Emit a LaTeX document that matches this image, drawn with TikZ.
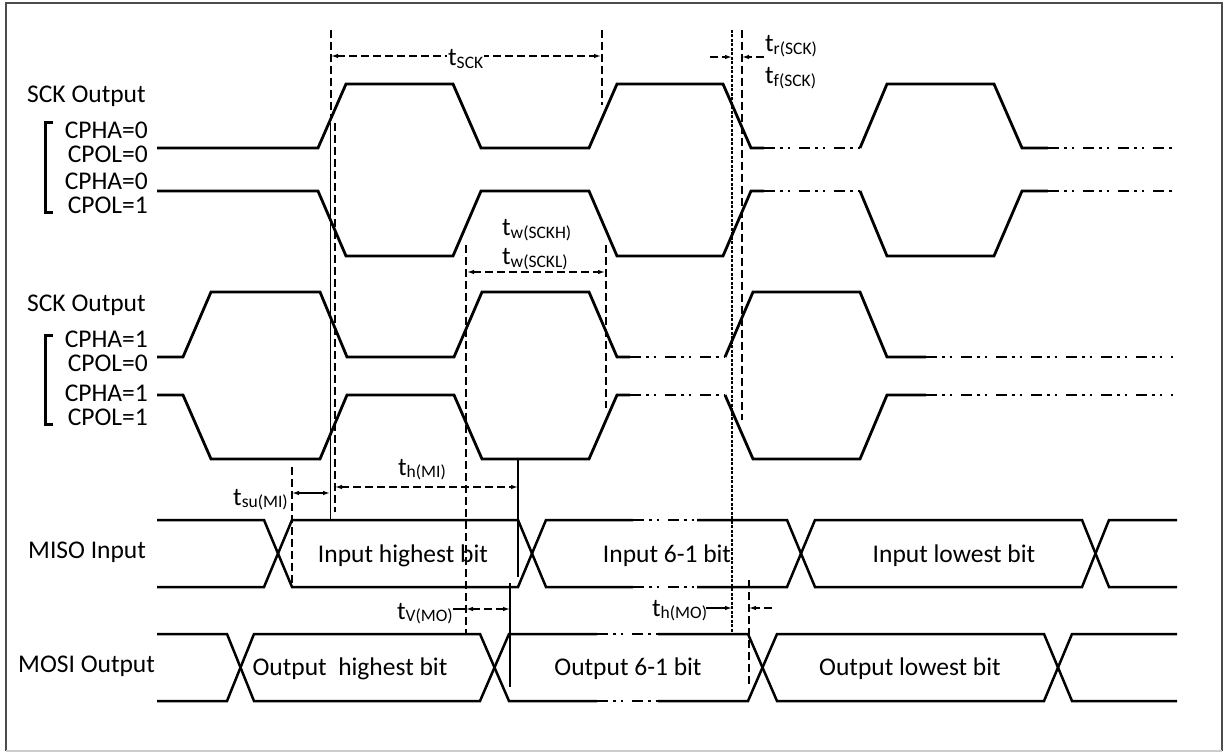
\documentclass[tikz,border=0pt]{standalone}
\usepackage{fontspec}
\setmainfont{Carlito}
\usetikzlibrary{arrows.meta}
\newcommand\tsb[1]{t\raisebox{-2.5pt}{\fontsize{17.5}{20}\selectfont #1}}
\newcommand\pairlab[3]{\vtop{\baselineskip=#3\lineskiplimit=-100pt\halign{\hfil##\cr #1\cr #2\cr}}}
\begin{document}
\begin{tikzpicture}[x=1pt,y=-1pt,
  sig/.style={line width=2.8pt,line join=miter},
  dd/.style={line width=2.8pt,dash pattern=on 11pt off 5pt on 2.5pt off 5pt on 2.5pt off 9pt},
  bus/.style={line width=2.5pt,line join=miter},
  busdd/.style={line width=2.5pt,dash pattern=on 11pt off 5pt on 2.5pt off 5pt on 2.5pt off 9pt},
  vd/.style={line width=1.3pt,dash pattern=on 8pt off 4pt},
  vdot/.style={line width=1.3pt,dash pattern=on 3pt off 1.5pt},
  vs/.style={line width=1.3pt},
  tip/.tip={Latex[length=7pt,width=4.5pt]},
  dim/.style={line width=1.3pt,dash pattern=on 8pt off 4pt,tip-tip},
  lbl/.style={inner sep=0pt,font=\fontsize{25.5}{30}\selectfont},
  frame/.style={line width=1.5pt,draw=black!70}]

\useasboundingbox (0,0) rectangle (1227,754);
\fill[white] (0,0) rectangle (1227,754);
\draw[frame] (6,751)--(6,3)--(1222,3)--(1222,751);
\draw[line width=1.5pt,black!20] (6,751)--(1222,751);

% ---------- vertical reference lines ----------
\draw[vd] (331,30)--(331,117);
\draw[vs,line width=1pt] (330,123)--(330,520);
\draw[vd] (335,123)--(335,512);
\draw[vd] (602,30)--(602,105);
\draw[vd] (466,245)--(466,634);
\draw[vd] (606,245)--(606,408);
\draw[vd] (292,467)--(292,585);
\draw[vs] (518,459)--(518,577);
\draw[vs] (510,583)--(510,687);
\draw[vdot] (732,30)--(732,634);
\draw[vd] (742,30)--(742,420);
\draw[vd] (749,580)--(749,687);

% ---------- dimension arrows ----------
\draw[dim] (331,56)--(601,56);
\node[lbl,fill=white,inner sep=1pt,anchor=base west] (tsck) at (447,66) {\tsb{SCK}};
\draw[dim] (467,272)--(605,272);
\draw[dim] (335,487)--(518,487);
\draw[vs,tip-tip] (292,493)--(330,493);
\draw[dim] (466,609)--(510,609);
\draw[vs] (453,609)--(466,609);
\draw[vs,-tip] (706,608)--(732,608);
\draw[vd,-tip] (772,608)--(749,608);
\draw[vd,-tip] (710,57)--(732,57);
\draw[vd,-tip] (764,57)--(742,57);

% ---------- timing labels ----------
\node[lbl,anchor=base west] (twh) at (502,236) {\tsb{w(SCKH)}};
\node[lbl,anchor=base west] (twl) at (502,265) {\tsb{w(SCKL)}};
\node[lbl,anchor=base west] (thmi) at (398,475) {\tsb{h(MI)}};
\node[lbl,anchor=base east] (tsumi) at (288,505) {\tsb{su(MI)}};
\node[lbl,anchor=base east] (tvmo) at (453,619) {\tsb{V(MO)}};
\node[lbl,anchor=base west] (thmo) at (652,616) {\tsb{h(MO)}};
\node[lbl,anchor=base west] (trsck) at (765,52) {\tsb{r(SCK)}};
\node[lbl,anchor=base west] (tfsck) at (765,84) {\tsb{f(SCK)}};

% ---------- left labels ----------
\node[lbl,anchor=base west] (sck1) at (27,103) {SCK Output};
\node[lbl,anchor=base east] (c1) at (148,139) {\pairlab{CPHA=0}{CPOL=0}{24pt}};
\node[lbl,anchor=base east] (c3) at (148,190) {\pairlab{CPHA=0}{CPOL=1}{24pt}};
\draw[line width=3pt] (53,123)--(45,123)--(45,213)--(53,213);

\node[lbl,anchor=base west] (sck2) at (27,312) {SCK Output};
\node[lbl,anchor=base east] (c5) at (148,348) {\pairlab{CPHA=1}{CPOL=0}{24pt}};
\node[lbl,anchor=base east] (c7) at (148,401) {\pairlab{CPHA=1}{CPOL=1}{24pt}};
\draw[line width=3pt] (53,335)--(45,335)--(45,424)--(53,424);

\node[lbl,anchor=base west] (miso) at (28,558) {MISO Input};
\node[lbl,anchor=base west] (mosi) at (18,672) {MOSI Output};

% ---------- SCK CPHA=0 CPOL=0 ----------
\draw[sig] (157,148)--(318,148)--(346,84)--(453,84)--(481,148)--(589,148)--(617,84)--(723,84)--(751,148)--(764,148);
\draw[dd] (764,148)--(860,148);
\draw[sig] (860,148)--(887,84)--(994,84)--(1022,148)--(1048,148);
\draw[dd] (1048,148)--(1173,148);
% ---------- SCK CPHA=0 CPOL=1 ----------
\draw[sig] (157,191)--(318,191)--(346,256)--(453,256)--(481,191)--(589,191)--(617,256)--(723,256)--(751,191)--(764,191);
\draw[dd] (764,191)--(860,191);
\draw[sig] (860,191)--(887,256)--(994,256)--(1022,191)--(1048,191);
\draw[dd] (1048,191)--(1173,191);
% ---------- SCK CPHA=1 CPOL=0 ----------
\draw[sig] (157,357)--(183,357)--(211,292)--(320,292)--(347,357)--(454,357)--(482,292)--(589,292)--(617,357)--(630,357);
\draw[dd] (630,357)--(725,357);
\draw[sig] (725,357)--(753,292)--(860,292)--(887,357)--(926,357);
\draw[dd] (926,357)--(1173,357);
% ---------- SCK CPHA=1 CPOL=1 ----------
\draw[sig] (157,395)--(183,395)--(211,459)--(320,459)--(347,395)--(454,395)--(482,459)--(589,459)--(617,395)--(630,395);
\draw[dd] (630,395)--(725,395);
\draw[sig] (725,395)--(753,459)--(860,459)--(887,395)--(926,395);
\draw[dd] (926,395)--(1173,395);

% ---------- MISO ----------
\draw[bus] (157,520)--(264,520)--(292,587)--(518,587)--(546,520)--(633,520);
\draw[bus] (157,587)--(264,587)--(292,520)--(518,520)--(546,587)--(633,587);
\draw[busdd] (633,520)--(697,520);
\draw[busdd] (633,587)--(697,587);
\draw[bus] (697,520)--(787,520)--(815,587)--(1082,587)--(1109,520)--(1177,520);
\draw[bus] (697,587)--(787,587)--(815,520)--(1082,520)--(1109,587)--(1177,587);
\node[lbl,anchor=base] (d1) at (403,562) {Input highest bit};
\node[lbl,anchor=base] (d2) at (667,562) {Input 6-1 bit};
\node[lbl,anchor=base] (d3) at (954,562) {Input lowest bit};

% ---------- MOSI ----------
\draw[bus] (157,634)--(227,634)--(254,701)--(480,701)--(509,634)--(597,634);
\draw[bus] (157,701)--(227,701)--(254,634)--(480,634)--(509,701)--(597,701);
\draw[busdd] (597,634)--(658,634);
\draw[busdd] (597,701)--(658,701);
\draw[bus] (658,634)--(748,634)--(777,701)--(1044,701)--(1072,634)--(1177,634);
\draw[bus] (658,701)--(748,701)--(777,634)--(1044,634)--(1072,701)--(1177,701);
\node[lbl,anchor=base] (d4) at (350,675) {Output~~highest bit};
\node[lbl,anchor=base] (d5) at (628,675) {Output 6-1 bit};
\node[lbl,anchor=base] (d6) at (910,675) {Output lowest bit};
\end{tikzpicture}
\end{document}
